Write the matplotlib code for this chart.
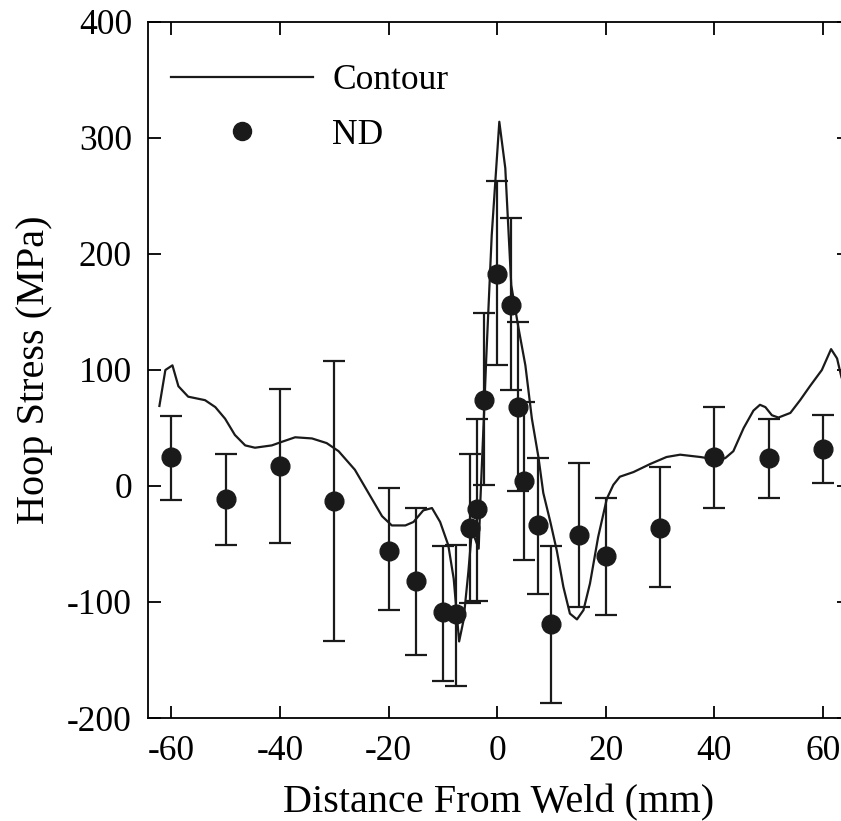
import numpy as np
import matplotlib.pyplot as plt
from matplotlib.lines import Line2D

plt.rcParams['font.family'] = ['Liberation Serif', 'DejaVu Serif']
plt.rcParams['axes.unicode_minus'] = False

# neutron diffraction points with error bar limits
nd_x = [-60, -50, -40, -30, -20, -15, -10, -7.5, -5, -3.75, -2.5, 0, 2.5, 3.75,
        5, 7.5, 10, 15, 20, 30, 40, 50, 60]
nd_y = [25, -11, 17, -13, -56, -82, -109, -110, -36, -20, 74, 183, 156, 68,
        4, -34, -119, -42, -60, -36, 25, 24, 32]
nd_top = [60, 28, 84, 108, -2, -19, -52, -51, 28, 58, 149, 263, 231, 141,
          72, 24, -52, 20, -10, 16, 68, 58, 61]
nd_bot = [-12, -51, -49, -134, -107, -146, -168, -172, -101, -99, 1, 104, 83, -4,
          -64, -93, -187, -104, -111, -87, -19, -10, 3]

# contour method profile
ct_x = [-62.2, -61.1, -59.8, -58.7, -56.9, -53.8, -51.9, -50.1, -48.3, -46.4,
        -44.6, -41.5, -39.7, -37.2, -34.1, -31.4, -29.2, -26.2, -23.7, -21.2,
        -19.4, -16.9, -15.4, -13.6, -12.0, -10.5, -9.0, -8.0, -7.0, -6.2,
        -5.3, -4.7, -4.1, -3.4, -3.1, -2.4, -2.0, -1.0, 0.4, 1.5, 2.6, 3.9,
        5.2, 6.4, 7.6, 8.5, 9.8, 11.0, 12.2, 13.4, 14.7, 15.9, 17.1, 18.6,
        20.2, 21.4, 22.6, 25.1, 28.2, 31.2, 33.7, 37.4, 40.1, 42.0, 43.5,
        45.4, 47.2, 48.4, 49.4, 50.6, 51.8, 54.0, 55.8, 57.6, 59.8, 61.5,
        62.6, 63.4, 64.5]
ct_y = [69, 100, 104, 86, 77, 74, 68, 58, 44, 35,
        33, 35, 38, 42, 41, 37, 30, 14, -6, -26,
        -34, -34, -31, -21, -19, -31, -51, -80, -134, -116,
        -74, -41, -45, -54, -14, 64, 111, 216, 314, 274, 173, 137,
        104, 58, 25, -6, -31, -56, -87, -110, -115, -107, -84, -44,
        -11, 1, 8, 12, 19, 25, 27, 25, 23, 24, 30,
        50, 65, 70, 68, 61, 59, 63, 74, 86, 100, 118,
        110, 94, 80]

fig = plt.figure(figsize=(8.41, 8.21), dpi=100)
ax = fig.add_axes([148 / 841, 1 - 718 / 821, 701 / 841, 696 / 821])

ax.plot(ct_x, ct_y, color='#1a1a1a', lw=1.6, zorder=2)
ax.errorbar(nd_x, nd_y,
            yerr=[np.array(nd_y) - np.array(nd_bot), np.array(nd_top) - np.array(nd_y)],
            fmt='o', color='#1a1a1a', ms=13.5, elinewidth=1.6, capsize=8,
            capthick=1.6, zorder=3)

ax.set_xlim(-64.3, 64.8)
ax.set_ylim(-200, 400)
ax.set_xticks([-60, -40, -20, 0, 20, 40, 60])
ax.set_yticks([-200, -100, 0, 100, 200, 300, 400])
ax.tick_params(direction='in', length=9, width=1.3, labelsize=25.5,
               top=True, right=True)
ax.tick_params(axis='y', pad=11.5)
ax.tick_params(axis='x', pad=12)
for s in ax.spines.values():
    s.set_linewidth(1.3)

ax.set_xlabel('Distance From Weld (mm)', fontsize=29, labelpad=12)
ax.set_ylabel('Hoop Stress (MPa)', fontsize=29, labelpad=10)

handles = [Line2D([], [], color='#1a1a1a', lw=1.6),
           Line2D([], [], marker='o', ls='none', color='#1a1a1a', ms=13)]
ax.legend(handles, ['Contour', 'ND'], loc='upper left', frameon=False,
          fontsize=25.5, handlelength=4.0, handletextpad=0.54, labelspacing=0.6,
          bbox_to_anchor=(-0.012, 0.985), borderaxespad=0.5)

fig.savefig('out.png', dpi=100)
